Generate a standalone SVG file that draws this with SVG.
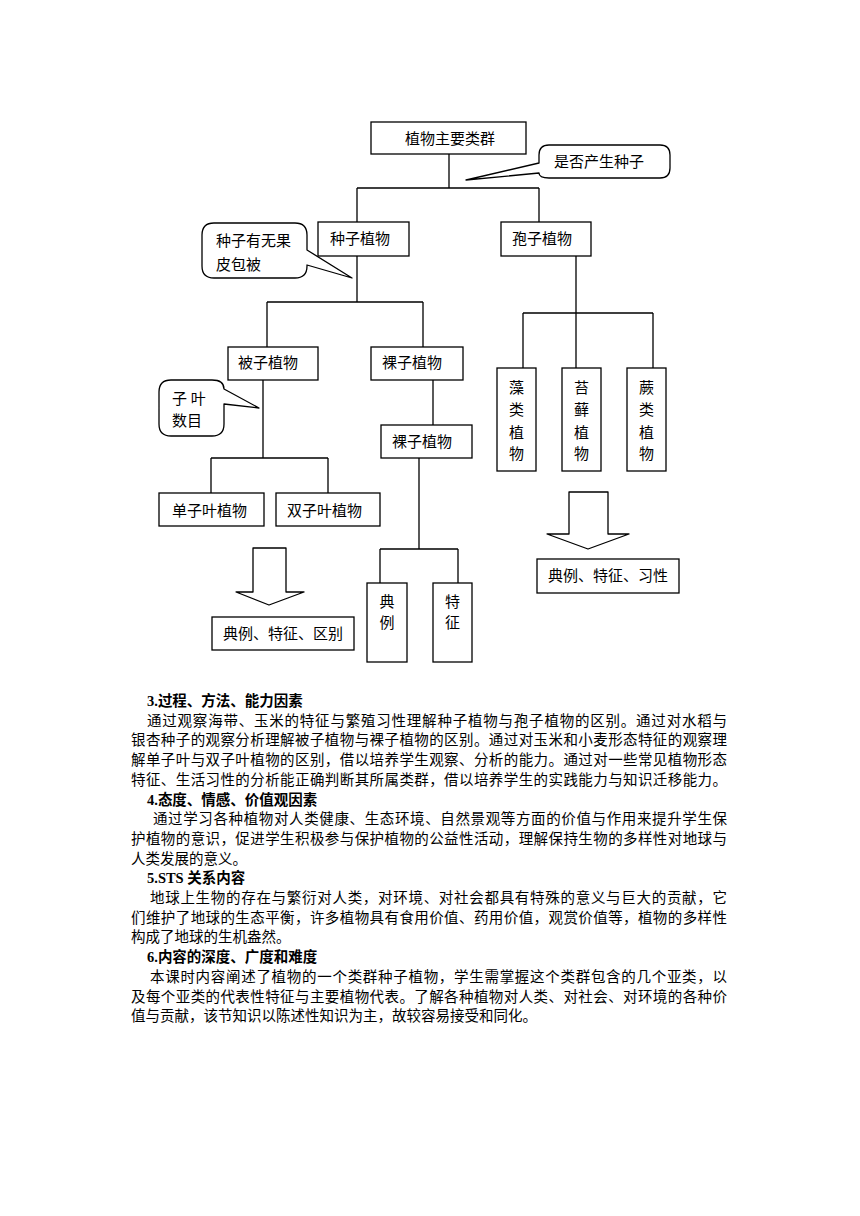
<svg xmlns="http://www.w3.org/2000/svg" width="860" height="1216" viewBox="0 0 860 1216">
<style>
.bx{fill:#fff;stroke:#000;stroke-width:1.3}
.ln{fill:none;stroke:#000;stroke-width:1.3}
.co{fill:#fff;stroke:#000;stroke-width:1.3;stroke-linejoin:round}
.t{font-family:"Liberation Serif","Noto Sans CJK SC",serif;font-size:15px;fill:#000}
.tc{text-anchor:middle}
.p{font-family:"Liberation Serif","Noto Sans CJK SC",serif;font-size:14.5px;fill:#000}
.h{font-family:"Liberation Serif","Noto Sans CJK SC",serif;font-size:14.5px;font-weight:bold;fill:#000}
</style>
<rect width="860" height="1216" fill="#fff"/>
<g id="connectors">
<path class="ln" d="M449,154V188M357,188H539M357,188V222M539,188V222"/>
<path class="ln" d="M357,256V302M267,302H423M267,302V347M423,302V347"/>
<path class="ln" d="M576,256V368M523,313H653M523,313V368M653,313V368"/>
<path class="ln" d="M263,380V458M211,458H328M211,458V493M328,458V493"/>
<path class="ln" d="M433,380V425"/>
<path class="ln" d="M419,458V549M380,549H458M380,549V583M458,549V583"/>
</g>
<g id="root"><rect class="bx" x="371" y="122" width="155" height="32"/><text class="t tc" x="450" y="144">植物主要类群</text></g>
<g id="callout-seed"><path class="co" d="M549,145H660Q670,145 670,155V168Q670,178 660,178H549Q539,178 539,173L466,180L539,163V155Q539,145 549,145Z"/><text class="t" x="554" y="167">是否产生种子</text></g>
<g id="seed-plants"><rect class="bx" x="318" y="222" width="91" height="34"/><text class="t" x="330" y="244">种子植物</text></g>
<g id="spore-plants"><rect class="bx" x="501" y="222" width="90" height="34"/><text class="t" x="512" y="244">孢子植物</text></g>
<g id="callout-peel"><path class="co" d="M214,223H295Q307,223 307,235V250L352,278L307,265V266Q307,278 295,278H214Q202,278 202,266V235Q202,223 214,223Z"/><text class="t" x="216" y="246">种子有无果</text><text class="t" x="216" y="270">皮包被</text></g>
<g id="angiosperms"><rect class="bx" x="228" y="347" width="90" height="33"/><text class="t" x="238" y="368">被子植物</text></g>
<g id="gymnosperms"><rect class="bx" x="371" y="347" width="92" height="33"/><text class="t" x="382" y="368">裸子植物</text></g>
<g id="gymnosperms2"><rect class="bx" x="381" y="425" width="91" height="33"/><text class="t" x="392" y="447">裸子植物</text></g>
<g id="callout-leaf"><path class="co" d="M171,380H212Q224,380 224,389L259,408L224,404V424Q224,436 212,436H171Q159,436 159,424V392Q159,380 171,380Z"/><text class="t" x="172" y="404">子 叶</text><text class="t" x="172" y="426">数目</text></g>
<g id="algae"><rect class="bx" x="497" y="368" width="39" height="103"/><text class="t tc" x="516.5" y="393">藻</text><text class="t tc" x="516.5" y="415">类</text><text class="t tc" x="516.5" y="438">植</text><text class="t tc" x="516.5" y="459">物</text></g>
<g id="moss"><rect class="bx" x="562" y="368" width="39" height="103"/><text class="t tc" x="581.5" y="393">苔</text><text class="t tc" x="581.5" y="415">藓</text><text class="t tc" x="581.5" y="438">植</text><text class="t tc" x="581.5" y="459">物</text></g>
<g id="fern"><rect class="bx" x="627" y="368" width="39" height="103"/><text class="t tc" x="646.5" y="393">蕨</text><text class="t tc" x="646.5" y="415">类</text><text class="t tc" x="646.5" y="438">植</text><text class="t tc" x="646.5" y="459">物</text></g>
<g id="monocot"><rect class="bx" x="159" y="493" width="105" height="33"/><text class="t" x="172" y="516">单子叶植物</text></g>
<g id="dicot"><rect class="bx" x="276" y="493" width="104" height="33"/><text class="t" x="287" y="516">双子叶植物</text></g>
<g id="example"><rect class="bx" x="367" y="583" width="40" height="79"/><text class="t tc" x="387" y="607">典</text><text class="t tc" x="387" y="628">例</text></g>
<g id="feature"><rect class="bx" x="433" y="583" width="39" height="79"/><text class="t tc" x="452.5" y="607">特</text><text class="t tc" x="452.5" y="628">征</text></g>
<g id="arrow-left"><polygon class="co" points="253,548 286,548 286,592 304,592 269,605 236,592 253,592"/></g>
<g id="arrow-right"><polygon class="co" points="569,492 608,492 608,534 629,534 588,549 547,534 569,534"/></g>
<g id="summary-left"><rect class="bx" x="212" y="617" width="142" height="33"/><text class="t" x="223" y="639">典例、特征、区别</text></g>
<g id="summary-right"><rect class="bx" x="537" y="559" width="142" height="34"/><text class="t" x="548" y="581">典例、特征、习性</text></g>
<g id="text">
<text class="h" x="147" y="706">3.过程、方法、能力因素</text>
<text class="p" x="147" y="725.7" textLength="580" lengthAdjust="spacing">通过观察海带、玉米的特征与繁殖习性理解种子植物与孢子植物的区别。通过对水稻与</text>
<text class="p" x="131" y="745.4" textLength="596" lengthAdjust="spacing">银杏种子的观察分析理解被子植物与裸子植物的区别。通过对玉米和小麦形态特征的观察理</text>
<text class="p" x="131" y="765.1" textLength="596" lengthAdjust="spacing">解单子叶与双子叶植物的区别，借以培养学生观察、分析的能力。通过对一些常见植物形态</text>
<text class="p" x="131" y="784.8" textLength="596" lengthAdjust="spacing">特征、生活习性的分析能正确判断其所属类群，借以培养学生的实践能力与知识迁移能力。</text>
<text class="h" x="147" y="804.5">4.态度、情感、价值观因素</text>
<text class="p" x="153" y="824.2" textLength="574" lengthAdjust="spacing">通过学习各种植物对人类健康、生态环境、自然景观等方面的价值与作用来提升学生保</text>
<text class="p" x="131" y="843.9" textLength="596" lengthAdjust="spacing">护植物的意识，促进学生积极参与保护植物的公益性活动，理解保持生物的多样性对地球与</text>
<text class="p" x="131" y="863.6">人类发展的意义。</text>
<text class="h" x="147" y="883.3">5.STS 关系内容</text>
<text class="p" x="150" y="903" textLength="577" lengthAdjust="spacing">地球上生物的存在与繁衍对人类，对环境、对社会都具有特殊的意义与巨大的贡献，它</text>
<text class="p" x="131" y="922.7" textLength="596" lengthAdjust="spacing">们维护了地球的生态平衡，许多植物具有食用价值、药用价值，观赏价值等，植物的多样性</text>
<text class="p" x="131" y="942.4">构成了地球的生机盎然。</text>
<text class="h" x="147" y="962.1">6.内容的深度、广度和难度</text>
<text class="p" x="150" y="981.8" textLength="577" lengthAdjust="spacing">本课时内容阐述了植物的一个类群种子植物，学生需掌握这个类群包含的几个亚类，以</text>
<text class="p" x="131" y="1001.5" textLength="596" lengthAdjust="spacing">及每个亚类的代表性特征与主要植物代表。了解各种植物对人类、对社会、对环境的各种价</text>
<text class="p" x="131" y="1021.2">值与贡献，该节知识以陈述性知识为主，故较容易接受和同化。</text>
</g>
</svg>
